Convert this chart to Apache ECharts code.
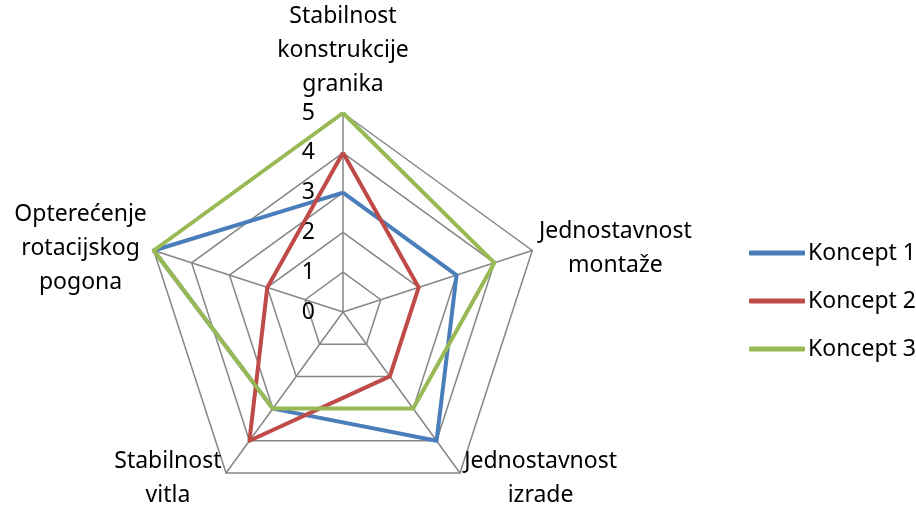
<!DOCTYPE html>
<html>
<head>
<meta charset="utf-8">
<script src="https://cdn.jsdelivr.net/npm/echarts@6/dist/echarts.min.js"></script>
<style>
html, body { margin: 0; padding: 0; background: #fff; }
#chart { width: 916px; height: 512px; }
</style>
</head>
<body>
<div id="chart"></div>
<script>
// kriteriji (osi), u smjeru kazaljke na satu od vrha
var criteria = ['Stabilnost\nkonstrukcije\ngranika', 'Jednostavnost\nmontaže', 'Jednostavnost\nizrade', 'Stabilnost\nvitla', 'Opterećenje\nrotacijskog\npogona'];
var seriesNames = ['Koncept 1', 'Koncept 2', 'Koncept 3'];
var koncept1 = [3, 3, 4, 3, 5];
var koncept2 = [4, 2, 2, 4, 2];
var koncept3 = [5, 4, 3, 3, 5];
var colors = ['#4A7EBB', '#BE4B48', '#98B954'];

var chart = echarts.init(document.getElementById('chart'));
var font = '"Noto Sans", sans-serif';
var fontSize = 23;

// echarts radar ide suprotno od kazaljke, pa preslozi osi
var order = [0, 4, 3, 2, 1];
function reorder(arr) {
    return order.map(function (i) { return arr[i]; });
}

// sirina najduljeg retka, da bi se retci centrirali
var ctx = document.createElement('canvas').getContext('2d');
ctx.font = fontSize + 'px ' + font;
var rich = {};
criteria.forEach(function (c, i) {
    var w = 0;
    c.split('\n').forEach(function (l) { w = Math.max(w, ctx.measureText(l).width); });
    rich['w' + i] = { width: Math.ceil(w), align: 'center', fontFamily: font, fontSize: fontSize, lineHeight: 34, color: '#000' };
});

var option = {
    animation: false,
    color: colors,
    legend: {
        orient: 'vertical',
        left: 744,
        top: 235,
        itemWidth: 56,
        itemHeight: 5,
        itemGap: 22,
        icon: 'roundRect',
        textStyle: { fontFamily: font, fontSize: fontSize, lineHeight: 26, color: '#000', padding: [0, 0, 0, -2] },
        data: seriesNames
    },
    radar: {
        center: [343, 312],
        radius: 199,
        startAngle: 90,
        shape: 'polygon',
        splitNumber: 5,
        axisName: {
            color: '#000',
            fontFamily: font,
            fontSize: fontSize,
            lineHeight: 34,
            rich: rich,
            formatter: function (name) {
                var idx = criteria.indexOf(name);
                return name.split('\n').map(function (l) {
                    return '{w' + idx + '|' + l + '}';
                }).join('\n');
            }
        },
        nameGap: 7,
        splitArea: { show: false },
        splitLine: { lineStyle: { color: '#868686', width: 1.5 } },
        axisLine: { lineStyle: { color: '#868686', width: 1.5 } },
        axisTick: { show: false },
        axisLabel: { show: false },
        indicator: reorder(criteria).map(function (c, i) {
            var ind = { name: c, min: 0, max: 5 };
            if (i === 0) {
                ind.axisLabel = { show: true, color: '#000', fontFamily: font, fontSize: fontSize, margin: 28 };
            }
            return ind;
        })
    },
    series: [{
        type: 'radar',
        symbol: 'none',
        lineStyle: { width: 4 },
        data: [
            { name: seriesNames[0], value: reorder(koncept1) },
            { name: seriesNames[1], value: reorder(koncept2) },
            { name: seriesNames[2], value: reorder(koncept3) }
        ]
    }]
};
chart.setOption(option);
</script>
</body>
</html>
